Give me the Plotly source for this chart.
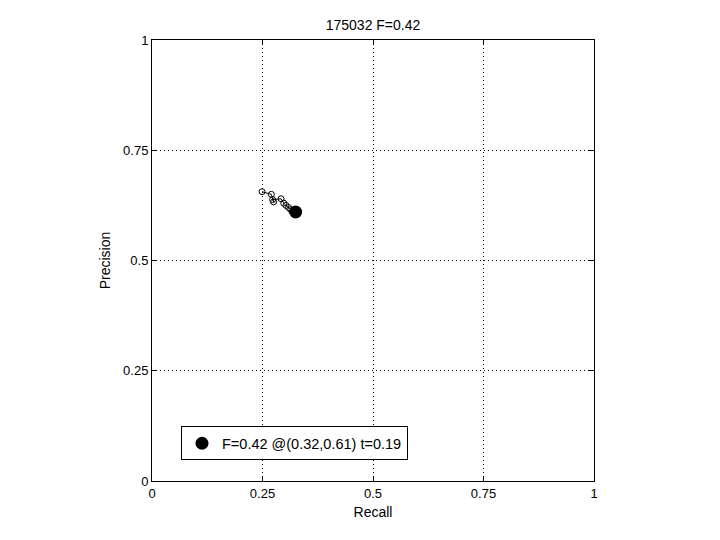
import plotly.graph_objects as go

recall = [0.249, 0.270, 0.275, 0.273, 0.292, 0.298, 0.303, 0.309, 0.314, 0.319, 0.325]
precision = [0.656, 0.650, 0.633, 0.638, 0.640, 0.630, 0.625, 0.620, 0.615, 0.612, 0.610]
best_r = [0.325]
best_p = [0.61]
best_label = "F=0.42 @(0.32,0.61) t=0.19"
title = "175032 F=0.42"
tick_vals = [0, 0.25, 0.5, 0.75, 1]
tick_text = ["0", "0.25", "0.5", "0.75", "1"]

fig = go.Figure()
fig.add_trace(go.Scatter(
    x=recall, y=precision, mode="lines+markers",
    line=dict(color="black", width=1),
    marker=dict(symbol="circle-open", size=6, color="black", line=dict(width=1)),
    showlegend=False))
fig.add_trace(go.Scatter(
    x=best_r, y=best_p, mode="markers",
    marker=dict(symbol="circle", size=13, color="black"),
    name=best_label, showlegend=True))

axis_common = dict(
    range=[0, 1], tickvals=tick_vals, ticktext=tick_text,
    showline=True, linecolor="black", linewidth=1, mirror="ticks",
    ticks="inside", ticklen=5, tickcolor="black",
    showgrid=True, gridcolor="black", gridwidth=1, griddash="1px,3px",
    zeroline=False, tickfont=dict(size=13, color="black"), automargin=False,
)

# page has an 8px body margin; figure is sized/placed to compensate
fig.update_layout(
    width=712, height=532,
    margin=dict(l=144, r=126, t=32, b=59),
    paper_bgcolor="white", plot_bgcolor="white",
    font=dict(family="Liberation Sans, Arial, sans-serif", size=14, color="black"),
    title=dict(text=title, x=365 / 712, xanchor="center", y=1 - 17 / 532, yanchor="middle",
               font=dict(size=14), automargin=False),
    xaxis=dict(title=dict(text="Recall", standoff=7, font=dict(size=14)), **axis_common),
    yaxis=dict(title=dict(text="Precision", standoff=9, font=dict(size=14)), **axis_common),
    legend=dict(x=0.0656, y=0.124, xanchor="left", yanchor="top",
                bordercolor="black", borderwidth=1, bgcolor="white",
                font=dict(size=14.5), itemwidth=30),
)

fig.write_html("out.html")
